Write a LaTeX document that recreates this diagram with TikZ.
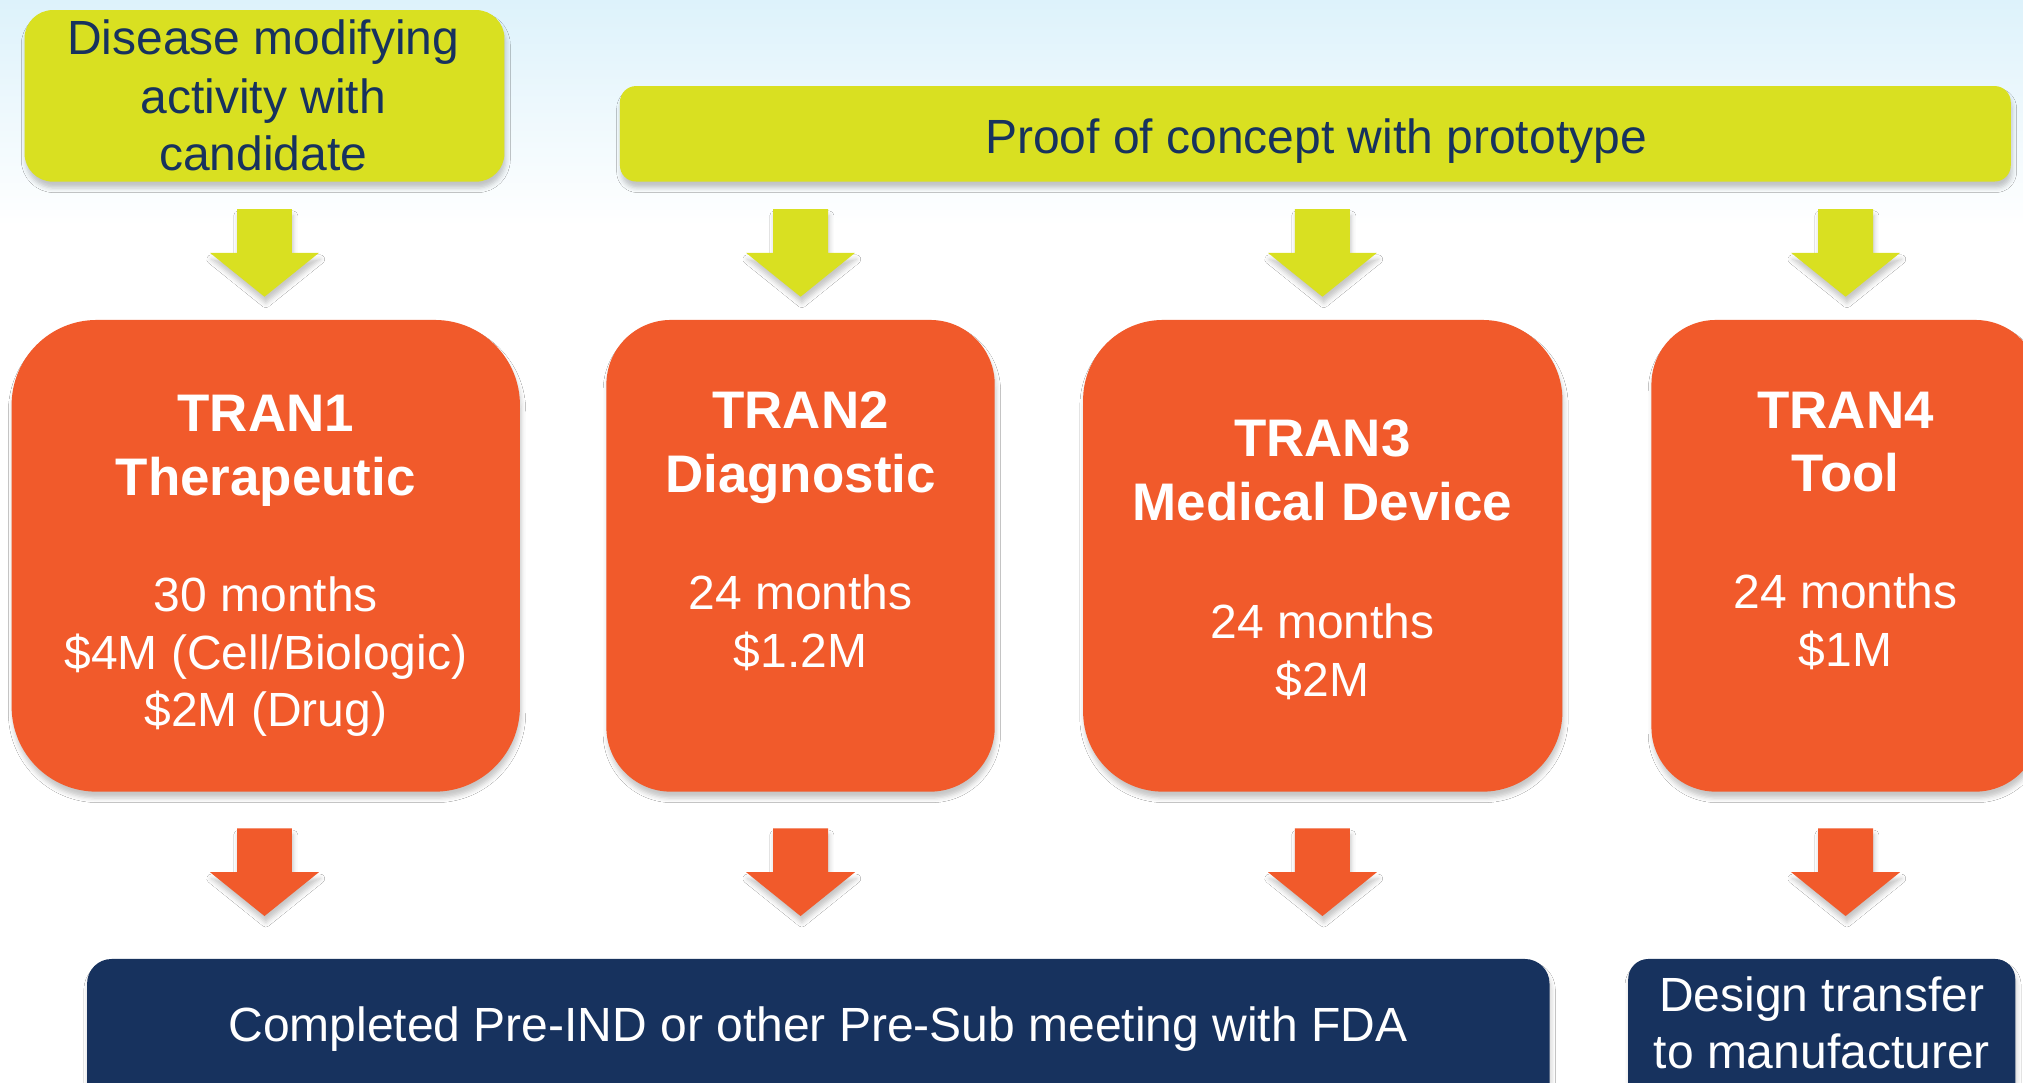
\documentclass[tikz,border=0pt]{standalone}
\usepackage{fontspec}
\setmainfont{Liberation Sans}
\usetikzlibrary{shadows.blur}
\definecolor{lime}{HTML}{D9E021}
\definecolor{orng}{HTML}{F15A2B}
\definecolor{navy}{HTML}{17325E}
\definecolor{sky}{HTML}{DDF2FB}
\tikzset{
  softshadow/.style={blur shadow={shadow xshift=1pt, shadow yshift=-5pt, shadow blur radius=3.5pt, shadow opacity=22}},
  box/.style={rectangle, inner sep=0pt, outer sep=0pt, anchor=north west, softshadow},
  limebox/.style={box, fill=lime},
  orngbox/.style={box, fill=orng},
  navybox/.style={box, fill=navy},
  txt/.style={inner sep=0pt, anchor=base, font=\fontsize{37.2}{44}\selectfont},
  btxt/.style={inner sep=0pt, anchor=base, font=\fontsize{41}{49}\selectfont\bfseries, text=white},
  wtxt/.style={txt, text=white},
  ntxt/.style={txt, text=navy},
}
% block arrow: #1 colour, #2 centre x, #3 top y
\newcommand{\blockarrow}[3]{%
  \fill[#1, softshadow] (#2-21.3,#3) -- (#2+21.3,#3) -- (#2+21.3,#3+34) -- (#2+42.2,#3+34)
    -- (#2,#3+68) -- (#2-42.2,#3+34) -- (#2-21.3,#3+34) -- cycle;}
\begin{document}
\begin{tikzpicture}[x=1pt,y=-1pt]
\useasboundingbox (0,0) rectangle (1568,839.4);
\clip (0,0) rectangle (1568,839.4);
\fill[white] (0,0) rectangle (1568,839.4);
\shade[top color=sky, bottom color=white] (0,0) rectangle (1568,175);

% top boxes
\node[limebox, rounded corners=22pt, minimum width=372pt, minimum height=133pt] (disease) at (19,7.8) {};
\node[limebox, rounded corners=12.5pt, minimum width=1078pt, minimum height=74pt] (proof) at (480.5,66.7) {};
\node[ntxt] (d1) at (204,42.6) {Disease modifying};
\node[ntxt] (d2) at (204,87.8) {activity with};
\node[ntxt] (d3) at (204,131.8) {candidate};
\node[ntxt] (p1) at (1020,118.8) {Proof of concept with prototype};

% green arrows
\blockarrow{lime}{205}{162}
\blockarrow{lime}{620.5}{162}
\blockarrow{lime}{1025}{162}
\blockarrow{lime}{1430.5}{162}

% orange boxes
\node[orngbox, rounded corners=66pt, minimum width=394pt, minimum height=365.6pt] (tran1) at (9,248) {};
\node[orngbox, rounded corners=50pt, minimum width=301pt, minimum height=365.6pt] (tran2) at (470,248) {};
\node[orngbox, rounded corners=62pt, minimum width=371.5pt, minimum height=365.6pt] (tran3) at (839.5,248) {};
\node[orngbox, rounded corners=50pt, minimum width=301pt, minimum height=365.6pt] (tran4) at (1280,248) {};

\node[btxt] (a1) at (206,334.6) {TRAN1};
\node[btxt] (a2) at (206,383.7) {Therapeutic};
\node[wtxt] (a3) at (206,474) {30 months};
\node[wtxt] (a4) at (206,519.3) {\$4M (Cell/Biologic)};
\node[wtxt] (a5) at (206,563.2) {\$2M (Drug)};

\node[btxt] (b1) at (620.5,332.5) {TRAN2};
\node[btxt] (b2) at (620.5,382) {Diagnostic};
\node[wtxt] (b3) at (620.5,472.5) {24 months};
\node[wtxt] (b4) at (620.5,517.5) {\$1.2M};

\node[btxt] (c1) at (1025,354) {TRAN3};
\node[btxt] (c2) at (1025,403.5) {Medical Device};
\node[wtxt] (c3) at (1025,494.8) {24 months};
\node[wtxt] (c4) at (1025,540) {\$2M};

\node[btxt] (e1) at (1430.5,332) {TRAN4};
\node[btxt] (e2) at (1430.5,381) {Tool};
\node[wtxt] (e3) at (1430.5,471.5) {24 months};
\node[wtxt] (e4) at (1430.5,516.7) {\$1M};

% orange arrows
\blockarrow{orng}{205}{642}
\blockarrow{orng}{620.5}{642}
\blockarrow{orng}{1025}{642}
\blockarrow{orng}{1430.5}{642}

% bottom boxes
\node[navybox, rounded corners=19pt, minimum width=1133.5pt, minimum height=140pt] (fda) at (67.5,743.3) {};
\node[navybox, rounded corners=15.5pt, minimum width=300pt, minimum height=140pt] (design) at (1262,743.3) {};
\node[wtxt] (f1) at (634,807.4) {Completed Pre-IND or other Pre-Sub meeting with FDA};
\node[wtxt] (g1) at (1412,784) {Design transfer};
\node[wtxt] (g2) at (1412,828) {to manufacturer};
\end{tikzpicture}
\end{document}
